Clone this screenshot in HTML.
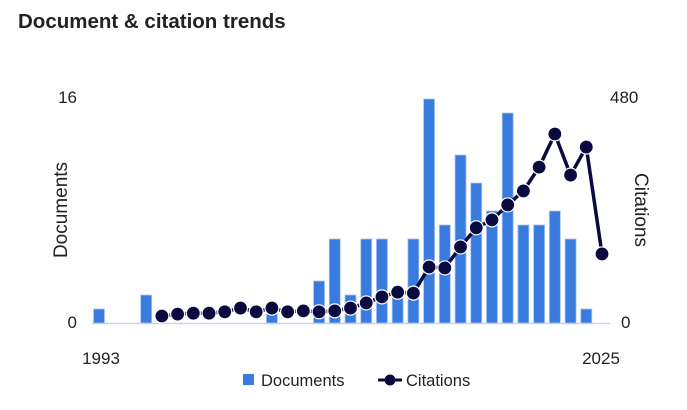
<!DOCTYPE html>
<html><head><meta charset="utf-8"><style>
body{margin:0;background:#fff;font-family:"Liberation Sans",sans-serif;}
svg text{font-family:"Liberation Sans",sans-serif;fill:#222;}
</style></head><body>
<svg id="c" width="687" height="405">
<text x="18" y="28" font-size="20.5" font-weight="bold">Document &amp; citation trends</text>
<text x="77" y="103" font-size="17" text-anchor="end">16</text>
<text x="77" y="328" font-size="17" text-anchor="end">0</text>
<text x="610" y="103" font-size="17">480</text>
<text x="621" y="328" font-size="17">0</text>
<text transform="translate(67,210) rotate(-90)" font-size="19" text-anchor="middle">Documents</text>
<text transform="translate(635,210) rotate(90)" font-size="19" text-anchor="middle">Citations</text>
<text x="101" y="364" font-size="17" text-anchor="middle">1993</text>
<text x="601" y="364" font-size="17" text-anchor="middle">2025</text>
<line x1="92" x2="610" y1="323.5" y2="323.5" stroke="#c8d4ea" stroke-width="1.5"/>
<g id="bars"></g><g id="line"></g>
<rect x="243" y="374" width="11" height="11" fill="#3a7be0"/>
<text x="261" y="386" font-size="16.5">Documents</text>
<line x1="378" x2="402" y1="380" y2="380" stroke="#0a0a40" stroke-width="3"/>
<circle cx="390" cy="380" r="5.5" fill="#0a0a40"/>
<text x="406" y="386" font-size="16.5">Citations</text>
</svg>
<script>
const years=[];for(let y=1993;y<=2025;y++)years.push(y);
const documents=[1,0,0,2,0,0,0,0,0,0,0,1,0,0,3,6,2,6,6,2,6,16,7,12,10,8,15,7,7,8,6,1,0];
const citations=[null,null,null,null,15,19,21,21,24,32,24,32,24,26,24,26,32,43,56,66,64,120,118,163,204,221,253,283,334,405,317,377,148];
const x=i=>99+i*(503/32);
const yL=v=>323-v*(224/16);
const yR=v=>323-v*(224/480);
const NS="http://www.w3.org/2000/svg";
const bg=document.getElementById('bars'),lg=document.getElementById('line');
documents.forEach((d,i)=>{if(!d)return;
 const r=document.createElementNS(NS,'rect');
 r.setAttribute('x',x(i)-5.5);r.setAttribute('width',11);
 r.setAttribute('y',yL(d));r.setAttribute('height',323-yL(d));
 r.setAttribute('fill','#3a7be0');r.setAttribute('stroke','#a9c6f0');r.setAttribute('stroke-width','0.8');
 
 
 bg.appendChild(r);});
const pts=[];citations.forEach((c,i)=>{if(c!==null)pts.push([x(i),yR(c)]);});
const p=document.createElementNS(NS,'polyline');
p.setAttribute('points',pts.map(q=>q.join(',')).join(' '));
p.setAttribute('fill','none');p.setAttribute('stroke','#0a0a40');p.setAttribute('stroke-width','3.5');


lg.appendChild(p);
citations.forEach((c,i)=>{if(c===null)return;
 const e=document.createElementNS(NS,'circle');
 e.setAttribute('cx',x(i));e.setAttribute('cy',yR(c));e.setAttribute('r',7);
 e.setAttribute('fill','#0a0a40');e.setAttribute('stroke','#fff');e.setAttribute('stroke-width','1.2');
 
 
 lg.appendChild(e);});
</script>
</body></html>
